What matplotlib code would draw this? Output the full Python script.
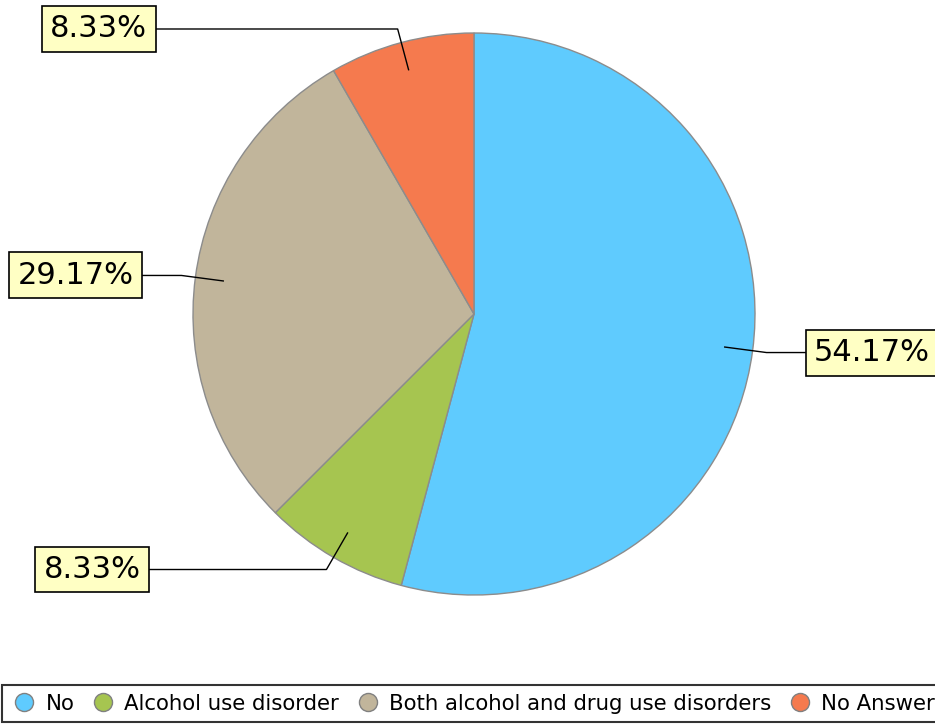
import numpy as np
import matplotlib
matplotlib.use("Agg")
import matplotlib.pyplot as plt
from matplotlib.lines import Line2D

labels = ["No", "Alcohol use disorder", "Both alcohol and drug use disorders", "No Answer"]
shares = [54.17, 8.33, 29.17, 8.33]
colors = ["#5fcbfe", "#a6c550", "#c1b59b", "#f57a4e"]
# length (px) of the horizontal part of each leader line
leader_run = [39, 177, 39, 242]

W, H = 935, 727
fig = plt.figure(figsize=(W / 100, H / 100), dpi=100)
ax = fig.add_axes([0, 0, 1, 1])

# axes in pixel units, pie centre / radius
cx, cy, r = 474, H - 314, 281
wedges, _ = ax.pie(shares, colors=colors, startangle=90, counterclock=False,
                   center=(cx, cy), radius=r,
                   wedgeprops=dict(edgecolor="#8c8c8c", linewidth=1))
ax.set_xlim(0, W)
ax.set_ylim(0, H)
ax.set_aspect("equal")
ax.axis("off")

fs = 22
pad_px = 8.5
for w, s, run in zip(wedges, shares, leader_run):
    th = np.deg2rad((w.theta1 + w.theta2) / 2)
    x0, y0 = cx + 0.9 * r * np.cos(th), cy + 0.9 * r * np.sin(th)
    ex, ey = cx + 1.05 * r * np.cos(th), cy + 1.05 * r * np.sin(th)
    side = 1 if np.cos(th) > 0 else -1
    bx = ex + side * run
    ax.plot([x0, ex, bx], [y0, ey, ey], color="black", lw=1)
    ax.text(bx + side * pad_px, ey, f"{s:.2f}%", fontsize=fs,
            ha="left" if side > 0 else "right", va="center",
            bbox=dict(boxstyle=f"square,pad={pad_px * 0.72 / fs:.3f}",
                      fc="#ffffc4", ec="black", lw=1.2))

handles = [Line2D([], [], marker="o", ls="", markersize=13, markerfacecolor=c,
                  markeredgecolor="#808080", markeredgewidth=1) for c in colors]
leg = fig.legend(handles, labels, loc="lower left", bbox_to_anchor=(2 / W, 5 / H),
                 ncol=4, frameon=True, fancybox=False, edgecolor="black",
                 fontsize=15.3, handlelength=1.3, handletextpad=0.35,
                 columnspacing=0.7, borderpad=0.4, borderaxespad=0)
leg.get_frame().set_linewidth(1.5)

fig.savefig("out.png", dpi=100)
